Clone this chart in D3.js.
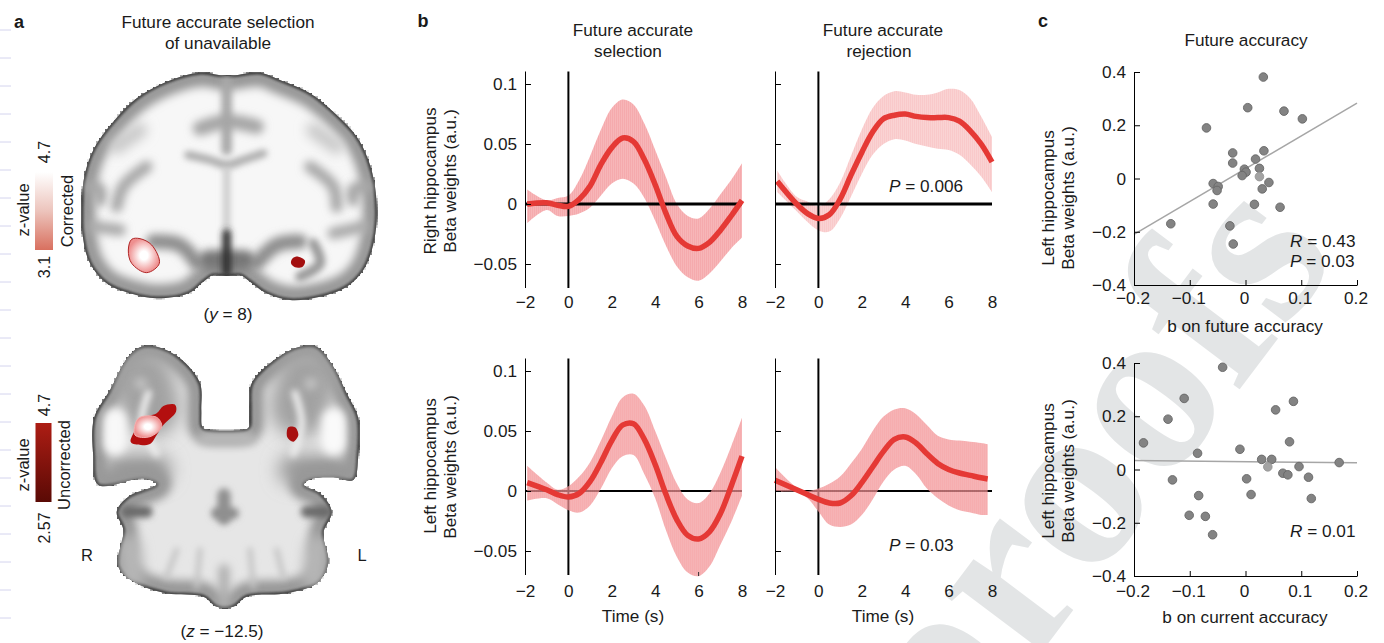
<!DOCTYPE html>
<html>
<head>
<meta charset="utf-8">
<script src="https://cdn.jsdelivr.net/npm/d3@7"></script>
<style>
  html, body { margin: 0; padding: 0; background: #fff; }
  text { font-family: "Liberation Sans", Arial, sans-serif; fill: #1a1a1a; }
</style>
</head>
<body>
<div id="chart"></div>
<script>
// panel b: time courses
var timeTicks = [-2, 0, 2, 4, 6, 8];
var betaTicks = [0.1, 0.05, 0, -0.05];
var times = [-1.9, -1, -0.5, 0, 0.5, 1, 1.5, 2, 2.5, 3, 3.5, 4, 4.5, 5, 5.5, 6, 6.5, 7, 7.5, 8];
var timesShort = [-2, -1, -0.5, 0, 0.5, 1, 1.5, 2, 2.5, 3, 3.5, 4, 4.5, 5, 5.5, 6, 6.5, 7, 7.5, 7.8];

var rightSelMean = [0, 0.001, -0.001, -0.002, 0.004, 0.015, 0.033, 0.047, 0.055, 0.052, 0.037, 0.016, -0.008, -0.027, -0.035, -0.037, -0.032, -0.022, -0.01, 0.003];
var rightSelUpper = [0.012, 0.003, 0.005, 0.007, 0.02, 0.04, 0.062, 0.08, 0.087, 0.083, 0.067, 0.045, 0.022, 0, -0.01, -0.012, -0.004, 0.008, 0.02, 0.034];
var rightSelLower = [-0.016, -0.005, -0.01, -0.01, -0.008, -0.003, 0.007, 0.017, 0.021, 0.017, 0.005, -0.014, -0.035, -0.052, -0.061, -0.064, -0.058, -0.048, -0.037, -0.028];

var rightRejMean = [0.019, 0, -0.008, -0.012, -0.009, 0.004, 0.024, 0.043, 0.06, 0.071, 0.074, 0.075, 0.073, 0.072, 0.072, 0.072, 0.069, 0.061, 0.05, 0.035];
var rightRejUpper = [0.028, 0.006, 0.002, -0.002, 0.004, 0.018, 0.04, 0.062, 0.08, 0.09, 0.094, 0.093, 0.091, 0.091, 0.093, 0.096, 0.095, 0.088, 0.073, 0.056];
var rightRejLower = [0.01, -0.006, -0.015, -0.022, -0.023, -0.012, 0.006, 0.025, 0.041, 0.05, 0.054, 0.053, 0.05, 0.048, 0.046, 0.045, 0.041, 0.033, 0.023, 0.01];

var leftSelMean = [0.007, 0.001, -0.003, -0.005, -0.002, 0.008, 0.024, 0.042, 0.055, 0.056, 0.043, 0.022, -0.003, -0.024, -0.037, -0.04, -0.034, -0.019, 0.004, 0.029];
var leftSelUpper = [0.021, 0.007, 0.001, 0.004, 0.012, 0.024, 0.042, 0.062, 0.078, 0.081, 0.071, 0.05, 0.027, 0.006, -0.007, -0.01, -0.002, 0.015, 0.037, 0.061];
var leftSelLower = [-0.008, -0.006, -0.011, -0.016, -0.018, -0.012, 0.002, 0.019, 0.029, 0.03, 0.014, -0.006, -0.033, -0.055, -0.068, -0.071, -0.063, -0.045, -0.026, -0.004];

var leftRejMean = [0.009, 0.001, -0.003, -0.007, -0.01, -0.01, -0.004, 0.007, 0.02, 0.033, 0.043, 0.045, 0.04, 0.031, 0.023, 0.018, 0.015, 0.013, 0.011, 0.01];
var leftRejUpper = [0.02, 0.003, 0, 0.002, 0.006, 0.012, 0.023, 0.035, 0.05, 0.062, 0.068, 0.069, 0.064, 0.055, 0.046, 0.043, 0.042, 0.041, 0.04, 0.039];
var leftRejLower = [-0.001, -0.001, -0.006, -0.017, -0.028, -0.03, -0.028, -0.02, -0.007, 0.008, 0.018, 0.021, 0.014, 0.002, -0.006, -0.012, -0.016, -0.018, -0.02, -0.02];

// panel c: scatter values
var scatterTicksX = [-0.2, -0.1, 0, 0.1, 0.2];
var scatterTicksY = [0.4, 0.2, 0, -0.2, -0.4];
var futureX = [0.032, 0.004, 0.069, 0.102, -0.07, -0.023, 0.033, 0.018, -0.023, 0.025, -0.002, 0.001, -0.006, 0.025, -0.058, 0.042, -0.049, -0.051, 0.03, -0.058, 0.016, 0.062, -0.134, -0.028, -0.022];
var futureY = [0.381, 0.266, 0.253, 0.224, 0.19, 0.096, 0.104, 0.073, 0.058, 0.038, 0.035, 0.024, 0.011, 0.007, -0.019, -0.015, -0.03, -0.045, -0.039, -0.096, -0.097, -0.108, -0.17, -0.178, -0.246];
var futureFit = [-0.21, 0.283];
var currentX = [-0.041, -0.11, 0.086, 0.054, -0.139, -0.183, 0.079, -0.086, -0.01, 0.029, 0.047, 0.168, 0.04, 0.096, 0.067, 0.076, 0.113, -0.131, 0.002, 0.01, -0.084, 0.118, -0.101, -0.072, -0.059];
var currentY = [0.384, 0.267, 0.256, 0.224, 0.189, 0.1, 0.104, 0.061, 0.076, 0.038, 0.038, 0.026, 0.01, 0.011, -0.014, -0.02, -0.029, -0.039, -0.035, -0.094, -0.098, -0.109, -0.172, -0.176, -0.245];
var currentFit = [0.034, 0.025];
var fitX = [-0.2, 0.2];

// panel a: brain outlines, in 3x crop pixels
var coronalOutline = [[600,218],[680,228],[780,218],[840,240],[930,280],[1010,345],[1070,410],[1105,480],[1125,560],[1130,660],[1118,740],[1090,810],[1040,860],[960,890],[870,900],[800,880],[750,845],[720,825],[680,828],[640,825],[610,845],[565,880],[470,895],[390,880],[320,850],[270,790],[250,720],[245,620],[255,520],[285,440],[340,365],[410,295],[500,245]];
var axialOutline = [[420,52],[470,50],[540,85],[600,160],[604,240],[606,288],[614,297],[740,297],[748,288],[750,240],[755,160],[830,85],[900,50],[950,50],[1000,110],[1040,190],[1075,265],[1075,375],[1060,450],[1000,442],[930,448],[912,465],[960,490],[995,545],[970,610],[985,700],[950,760],[860,790],[740,800],[700,830],[650,830],[610,800],[500,790],[410,760],[355,710],[370,600],[350,545],[385,500],[470,463],[430,445],[295,465],[280,380],[282,265],[330,180],[385,80]];

var coronalGrey = [
  {c: '#a8a8a8', w: 32, b: 'b4', p: [[680,240],[680,330],[680,450]]},
  {c: '#a6a6a6', w: 44, b: 'b5', p: [[600,385],[680,365],[770,380]]},
  {c: '#ababab', w: 24, b: 'b4', p: [[565,465],[630,480],[680,495],[730,480],[790,460]]},
  {c: '#c8c8c8', w: 20, b: 'b4', p: [[680,510],[680,680]]},
  {c: '#c8c8c8', w: 44, b: 'b6', p: [[350,440],[420,390]]},
  {c: '#c8c8c8', w: 44, b: 'b6', p: [[1010,440],[940,390]]},
  {c: '#a8a8a8', w: 36, b: 'b5', p: [[440,500],[370,560],[350,620]]},
  {c: '#a8a8a8', w: 36, b: 'b5', p: [[930,500],[1000,560],[1010,620]]},
  {c: '#a8a8a8', w: 38, b: 'b5', p: [[270,560],[300,570],[300,600]]},
  {c: '#a8a8a8', w: 38, b: 'b5', p: [[1100,560],[1060,570],[1060,600]]},
  {c: '#aaa', w: 36, b: 'b5', p: [[280,680],[360,690]]},
  {c: '#aaa', w: 36, b: 'b5', p: [[1090,680],[1000,700]]},
  {c: '#8e8e8e', w: 44, b: 'b5', p: [[460,725],[540,735],[590,790]]},
  {c: '#8e8e8e', w: 44, b: 'b5', p: [[900,725],[830,735],[770,790]]},
  {c: '#9a9a9a', w: 30, b: 'b4', p: [[940,730],[960,790],[900,830]]},
  {c: '#777', w: 60, b: 'b5', p: [[625,780],[735,780]]},
  {c: '#2e2e2e', w: 26, b: 'b4', p: [[680,700],[680,820]]}
];
var axialGrey = [
  {c: '#a2a2a2', w: 180, b: 'b8', p: [[430,150],[450,230]]},
  {c: '#a2a2a2', w: 180, b: 'b8', p: [[920,150],[900,230]]},
  {c: '#989898', w: 90, b: 'b8', p: [[350,420],[470,420]]},
  {c: '#989898', w: 90, b: 'b8', p: [[1010,420],[880,420]]},
  {c: '#c4c4c4', w: 34, b: 'b5', p: [[420,160],[425,162]]},
  {c: '#c4c4c4', w: 34, b: 'b5', p: [[935,160],[930,162]]},
  {c: '#ececec', w: 22, b: 'b4', p: [[445,190],[425,280],[470,370]]},
  {c: '#ececec', w: 22, b: 'b4', p: [[885,190],[905,280],[880,370]]},
  {c: '#f8f8f8', w: 70, b: 'b5', p: [[345,270],[345,340]]},
  {c: '#fafafa', w: 70, b: 'b5', p: [[1000,270],[1000,340]]},
  {c: '#bcbcbc', w: 34, b: 'b5', p: [[610,325],[750,325]]},
  {c: '#6a6a6a', w: 36, b: 'b4', p: [[380,545],[440,545]]},
  {c: '#6a6a6a', w: 36, b: 'b4', p: [[920,545],[980,545]]},
  {c: '#8c8c8c', w: 34, b: 'b4', p: [[650,550],[700,550]]},
  {c: '#8f8f8f', w: 40, b: 'b4', p: [[672,495],[672,565]]},
  {c: '#c4c4c4', w: 16, b: 'b4', p: [[530,660],[500,740]]},
  {c: '#c4c4c4', w: 16, b: 'b4', p: [[600,660],[590,770]]},
  {c: '#c4c4c4', w: 16, b: 'b4', p: [[750,660],[760,770]]},
  {c: '#c4c4c4', w: 16, b: 'b4', p: [[830,660],[850,740]]},
  {c: '#b0b0b0', w: 34, b: 'b5', p: [[672,720],[672,820]]},
  {c: '#b5b5b5', w: 70, b: 'b6', p: [[390,650],[400,740]]},
  {c: '#b5b5b5', w: 70, b: 'b6', p: [[950,650],[940,740]]}
];

var leftHotspot = [[395,718],[420,716],[455,735],[478,790],[440,818],[395,790],[385,750]];
var rightSpot = [[878,775],[895,770],[915,782],[908,800],[885,802],[873,790]];
var axialStrip = [[392,335],[405,300],[420,268],[470,250],[490,228],[525,224],[528,245],[490,285],[470,315],[450,342],[405,343]];
var axialCore = [[415,265],[470,262],[485,290],[450,320],[405,315]];
var axialSpot = [[865,292],[885,292],[895,315],[880,335],[862,322]];

var width = 1384, height = 643;
var svg = d3.select('#chart').append('svg')
  .attr('width', width)
  .attr('height', height)
  .style('display', 'block');

var defs = svg.append('defs');

[['b1', 0.8], ['b2', 1.2], ['b3', 2], ['b4', 3], ['b5', 4.5], ['b6', 6], ['b8', 9]].forEach(function(f) {
  defs.append('filter').attr('id', f[0])
    .attr('filterUnits', 'userSpaceOnUse')
    .attr('x', 0).attr('y', 0).attr('width', width).attr('height', height)
    .append('feGaussianBlur').attr('stdDeviation', f[1]);
});

// blocky voxel edge for the brain outline
var mosaic = defs.append('filter').attr('id', 'mosaic')
  .attr('filterUnits', 'userSpaceOnUse')
  .attr('x', 0).attr('y', 0).attr('width', width).attr('height', height);
mosaic.append('feFlood').attr('x', 1).attr('y', 1).attr('width', 1).attr('height', 1);
mosaic.append('feComposite').attr('width', 3).attr('height', 3);
mosaic.append('feTile').attr('result', 'grid');
mosaic.append('feComposite').attr('in', 'SourceGraphic').attr('in2', 'grid').attr('operator', 'in');
mosaic.append('feMorphology').attr('operator', 'dilate').attr('radius', 1);

function stripes(id, base, line) {
  var p = defs.append('pattern').attr('id', id)
    .attr('patternUnits', 'userSpaceOnUse')
    .attr('width', 2).attr('height', 4);
  p.append('rect').attr('width', 2).attr('height', 4).attr('fill', base);
  p.append('rect').attr('width', 1).attr('height', 4).attr('fill', line);
}
stripes('bandSel', '#f7b6b8', '#f5aaad');
stripes('bandRej', '#fad3d3', '#f9c9ca');
stripes('bandLeft', '#f29598', '#f28d90');

function gradient(id, stops) {
  var g = defs.append('linearGradient').attr('id', id)
    .attr('x1', 0).attr('y1', 0).attr('x2', 0).attr('y2', 1);
  stops.forEach(function(s, i) {
    g.append('stop').attr('offset', i / (stops.length - 1)).attr('stop-color', s);
  });
}
gradient('barCorrected', ['#ffffff', '#ecc4bc', '#d9705f']);
gradient('barUncorrected', ['#ad1d14', '#5a0a05']);

var hot = defs.append('radialGradient').attr('id', 'hotFill');
hot.append('stop').attr('offset', 0.25).attr('stop-color', '#ffffff');
hot.append('stop').attr('offset', 1).attr('stop-color', '#ee8f8f');

// watermark goes under everything
svg.append('text')
  .attr('transform', 'translate(1340,256) rotate(-53)')
  .attr('text-anchor', 'end')
  .style('font-family', '"Liberation Serif", serif')
  .style('font-weight', 'bold')
  .style('font-size', '240px')
  .style('fill', '#e3e5e6')
  .text('proofs');

// margin dashes
svg.append('g').selectAll('line')
  .data(d3.range(0, 22))
  .enter().append('line')
  .attr('x1', 0).attr('x2', 11)
  .attr('y1', function(d) { return d < 11 ? 30 + d * 28 : 338 + (d - 11) * 28; })
  .attr('y2', function(d) { return d < 11 ? 30 + d * 28 : 338 + (d - 11) * 28; })
  .attr('stroke', '#d4d4ee').attr('stroke-width', 1);

function label(x, y, str, opts) {
  opts = opts || {};
  var t = svg.append('text')
    .attr('text-anchor', opts.anchor || 'middle')
    .style('font-size', (opts.size || 17.2) + 'px')
    .attr('transform', 'translate(' + x + ',' + y + ')' + (opts.rot ? ' rotate(-90)' : ''));
  if (opts.bold) t.style('font-weight', 'bold');
  return t.text(str);
}
function italicLabel(x, y, before, it, after, anchor) {
  var t = svg.append('text')
    .attr('x', x).attr('y', y)
    .attr('text-anchor', anchor || 'start')
    .style('font-size', '17.2px');
  if (before) t.append('tspan').text(before);
  t.append('tspan').style('font-style', 'italic').text(it);
  t.append('tspan').text(after);
}

// ---- panel a
function drawBrain(id, outline, ox, oy, greys) {
  var px = d3.scaleLinear().domain([0, 3]).range([ox, ox + 1]);
  var py = d3.scaleLinear().domain([0, 3]).range([oy, oy + 1]);
  var line = d3.line().x(function(d) { return px(d[0]); }).y(function(d) { return py(d[1]); });
  var closed = d3.line().x(line.x()).y(line.y()).curve(d3.curveCatmullRomClosed.alpha(0.5));
  var open = d3.line().x(line.x()).y(line.y()).curve(d3.curveCatmullRom);
  defs.append('clipPath').attr('id', id).append('path').attr('d', closed(outline));
  svg.append('path').attr('d', closed(outline)).attr('fill', '#505050').attr('filter', 'url(#mosaic)');
  var g = svg.append('g').attr('clip-path', 'url(#' + id + ')');
  g.append('path').attr('d', closed(outline))
    .attr('fill', id == 'coronal' ? '#f7f7f7' : '#e6e6e6')
    .attr('stroke', '#9a9a9a').attr('stroke-width', 30).attr('filter', 'url(#b5)');
  g.append('path').attr('d', closed(outline))
    .attr('fill', 'none')
    .attr('stroke', '#454545').attr('stroke-width', 4).attr('filter', 'url(#b2)');
  greys.forEach(function(s) {
    g.append('path').attr('d', open(s.p)).attr('fill', 'none')
      .attr('stroke', s.c).attr('stroke-width', s.w / 3)
      .attr('stroke-linecap', 'round')
      .attr('filter', 'url(#' + s.b + ')');
  });
  return closed;
}
function blob(closed, pts, fill, stroke) {
  return svg.append('path').attr('d', closed(pts)).attr('fill', fill)
    .attr('stroke', stroke || 'none').attr('stroke-width', 1);
}

var coronalPath = drawBrain('coronal', coronalOutline, 0, 0, coronalGrey);
blob(coronalPath, leftHotspot, 'url(#hotFill)', '#b02525');
blob(coronalPath, rightSpot, '#a30f0f');

var axialPath = drawBrain('axial', axialOutline, 0, 330, axialGrey);
blob(axialPath, axialStrip, '#b30f0f');
blob(axialPath, axialCore, 'url(#hotFill)', '#f4b0b0');
blob(axialPath, axialSpot, '#a81010');

svg.append('rect').attr('x', 35).attr('y', 172).attr('width', 18).attr('height', 78).attr('fill', 'url(#barCorrected)');
svg.append('rect').attr('x', 35.5).attr('y', 423).attr('width', 16).attr('height', 79).attr('fill', 'url(#barUncorrected)');

label(19, 28, 'a', {bold: true, size: 18});
label(218, 28, 'Future accurate selection');
label(218, 49, 'of unavailable');
label(29, 210, 'z-value', {rot: true, size: 16.5});
label(50, 152, '4.7', {rot: true, size: 16});
label(50, 267, '3.1', {rot: true, size: 16});
label(73, 211, 'Corrected', {rot: true, size: 16.5});
italicLabel(228, 320, '(', 'y', ' = 8)', 'middle');
label(29, 465, 'z-value', {rot: true, size: 16.5});
label(50, 405, '4.7', {rot: true, size: 16});
label(50, 528, '2.57', {rot: true, size: 16});
label(70, 465, 'Uncorrected', {rot: true, size: 16.5});
label(87, 561, 'R', {size: 16.5});
label(362, 561, 'L', {size: 16.5});
italicLabel(222, 637, '(', 'z', ' = \u221212.5)', 'middle');

// ---- panel b
var fmt = function(d) { return String(d).replace('-', '\u2212'); };

function timePanel(left, top, ts, mean, upper, lower, fill, opts) {
  var x = d3.scaleLinear().domain([-2, 8]).range([left, left + 217]);
  var y = d3.scaleLinear().domain([0, 0.05]).range([top + 120, top + 60]);
  var yTop = top - 12.5, yBottom = top + 204;

  var band = d3.area().x(function(d, i) { return x(ts[i]); })
    .y0(function(d, i) { return y(lower[i]); })
    .y1(function(d, i) { return y(upper[i]); })
    .curve(d3.curveCatmullRom);
  var curve = d3.line().x(function(d, i) { return x(ts[i]); })
    .y(function(d) { return y(d); })
    .curve(d3.curveCatmullRom);

  var g = svg.append('g');
  function refs() {
    g.append('line').attr('x1', x(-2)).attr('x2', x(8)).attr('y1', y(0)).attr('y2', y(0))
      .attr('stroke', '#000').attr('stroke-width', opts.zeroW);
    g.append('line').attr('x1', x(0)).attr('x2', x(0)).attr('y1', yTop).attr('y2', yBottom)
      .attr('stroke', '#000').attr('stroke-width', 2);
  }
  if (opts.linesOver) {
    g.append('path').attr('d', band(mean)).attr('fill', 'url(#' + fill + ')');
    refs();
  } else {
    refs();
    g.append('path').attr('d', band(mean)).attr('fill', 'url(#' + fill + ')').attr('opacity', 0.72);
  }
  g.append('path').attr('d', curve(mean)).attr('fill', 'none')
    .attr('stroke', '#e53935').attr('stroke-width', 5.5);

  var yAxis = d3.axisRight(y).tickValues(betaTicks).tickSize(6).tickFormat('');
  var ya = svg.append('g').attr('transform', 'translate(' + left + ',0)').call(yAxis);
  ya.select('.domain').attr('d', 'M0.5,' + yTop + 'V' + yBottom);
  if (opts.labels) {
    betaTicks.forEach(function(v) {
      label(left - 8, y(v) + 6, fmt(v), {anchor: 'end'});
    });
  }
  var xAxis = d3.axisBottom(x).tickValues(timeTicks).tickSize(0).tickPadding(0).tickFormat(fmt);
  var xa = svg.append('g').attr('transform', 'translate(0,' + (yBottom + opts.tickGap) + ')').call(xAxis);
  xa.select('.domain').remove();
  xa.selectAll('text').style('font-size', '17.2px').style('font-family', '"Liberation Sans", Arial, sans-serif');
  if (opts.stubAt !== undefined) {
    g.append('line').attr('x1', x(opts.stubAt)).attr('x2', x(opts.stubAt))
      .attr('y1', yBottom - 3).attr('y2', yBottom + 1).attr('stroke', '#333');
  }
}

timePanel(525, 84, times, rightSelMean, rightSelUpper, rightSelLower, 'bandSel', {labels: true, linesOver: true, zeroW: 3, tickGap: 8});
timePanel(775, 84, times, rightRejMean, rightRejUpper, rightRejLower, 'bandRej', {labels: false, linesOver: true, zeroW: 3, tickGap: 8});
timePanel(525, 371, times, leftSelMean, leftSelUpper, leftSelLower, 'bandLeft', {labels: true, linesOver: false, zeroW: 2, tickGap: 10, stubAt: 6});
timePanel(775, 371, timesShort, leftRejMean, leftRejUpper, leftRejLower, 'bandLeft', {labels: false, linesOver: false, zeroW: 2, tickGap: 10});

label(423, 27, 'b', {bold: true, size: 18});
label(633, 36, 'Future accurate');
label(628, 57, 'selection');
label(883, 36, 'Future accurate');
label(879, 57, 'rejection');
label(436, 181, 'Right hippocampus', {rot: true});
label(456, 181, 'Beta weights (a.u.)', {rot: true});
label(436, 466, 'Left hippocampus', {rot: true});
label(456, 467, 'Beta weights (a.u.)', {rot: true});
label(633, 622, 'Time (s)');
label(883, 622, 'Time (s)');
italicLabel(889, 192, '', 'P', ' = 0.006');
italicLabel(889, 551, '', 'P', ' = 0.03');

// ---- panel c
function scatterPanel(top, xs, ys, fit, pale, xTitle, tickGap) {
  var x = d3.scaleLinear().domain([-0.2, 0.2]).range([1134, 1357]);
  var y = d3.scaleLinear().domain([0.4, -0.4]).range([top, top + 213]);

  svg.append('line')
    .attr('x1', x(fitX[0])).attr('x2', x(fitX[1]))
    .attr('y1', y(fit[0])).attr('y2', y(fit[1]))
    .attr('stroke', '#a6a6a6').attr('stroke-width', 1.5);

  svg.append('g').selectAll('circle')
    .data(xs)
    .enter().append('circle')
    .attr('cx', function(d) { return x(d); })
    .attr('cy', function(d, i) { return y(ys[i]); })
    .attr('r', 4.3)
    .attr('fill', function(d, i) { return i == pale ? '#a3a3a3' : '#838383'; })
    .attr('stroke', function(d, i) { return i == pale ? '#969696' : '#666'; })
    .attr('stroke-width', 0.9);

  var ya = svg.append('g').attr('transform', 'translate(' + x(-0.2) + ',0)')
    .call(d3.axisRight(y).tickValues(scatterTicksY).tickSize(6).tickFormat(''));
  ya.select('.domain').attr('d', 'M0.5,' + y(0.4) + 'V' + y(-0.4));
  var xa = svg.append('g').attr('transform', 'translate(0,' + y(-0.4) + ')')
    .call(d3.axisTop(x).tickValues(scatterTicksX).tickSize(5).tickFormat(''));
  xa.select('.domain').attr('d', 'M' + x(-0.2) + ',0.5H' + (x(0.2) + 0.5));

  scatterTicksY.forEach(function(v) {
    label(1126, y(v) + 6, fmt(v), {anchor: 'end'});
  });
  scatterTicksX.forEach(function(v) {
    label(x(v) - 1, y(-0.4) + tickGap, fmt(v));
  });
  label(1245, y(-0.4) + 47, xTitle);
}

scatterPanel(72, futureX, futureY, futureFit, 13, 'b on future accuracy', 19);
scatterPanel(363, currentX, currentY, currentFit, 12, 'b on current accuracy', 21);

label(1043, 27, 'c', {bold: true, size: 18});
label(1246, 46, 'Future accuracy');
label(1054, 198, 'Left hippocampus', {rot: true});
label(1074, 198, 'Beta weights (a.u.)', {rot: true});
label(1054, 471, 'Left hippocampus', {rot: true});
label(1074, 471, 'Beta weights (a.u.)', {rot: true});
italicLabel(1290, 247, '', 'R', ' = 0.43');
italicLabel(1290, 267, '', 'P', ' = 0.03');
italicLabel(1290, 537, '', 'R', ' = 0.01');
</script>
</body>
</html>
